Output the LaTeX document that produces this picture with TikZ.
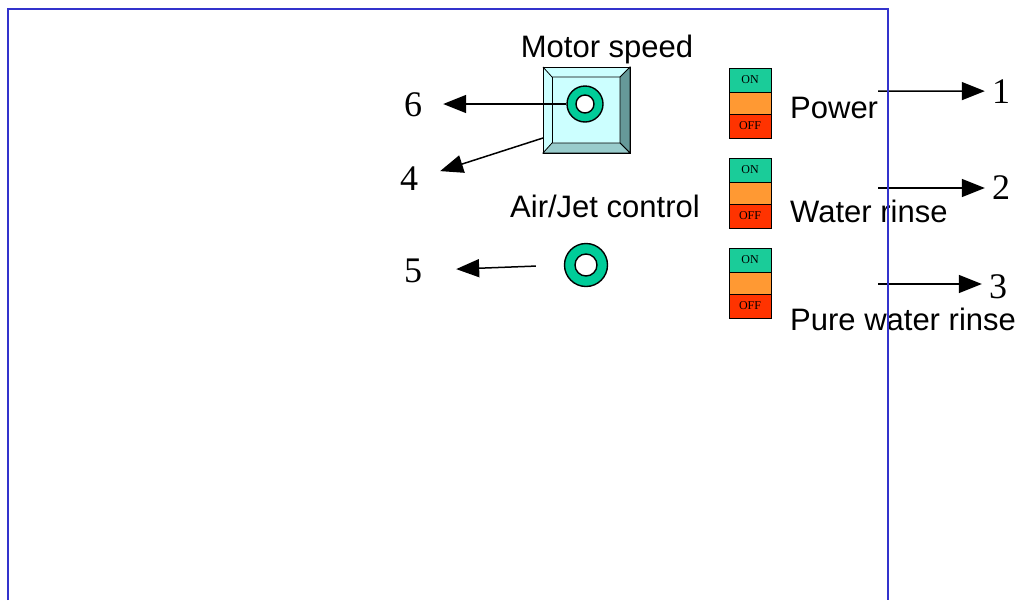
\documentclass[tikz,border=0pt]{standalone}
\usepackage{fontspec}
\setmainfont{Liberation Serif}
\newfontfamily\labelfont{Liberation Sans}
\usetikzlibrary{arrows.meta,calc}
\definecolor{framebl}{RGB}{51,51,204}
\definecolor{knobgr}{RGB}{0,204,153}
\definecolor{swon}{RGB}{26,204,153}
\definecolor{swmid}{RGB}{255,153,51}
\definecolor{swoff}{RGB}{255,51,0}
\definecolor{facecy}{RGB}{204,255,255}
\definecolor{bevdark}{RGB}{102,153,153}
\definecolor{bevmid}{RGB}{153,204,204}
\begin{document}
\begin{tikzpicture}[x=1pt,y=-1pt,
	txt/.style={ font=\labelfont\fontsize{31}{36}\selectfont, inner sep=0pt, anchor=base },
	num/.style={ font=\fontsize{36}{40}\selectfont, inner sep=0pt, anchor=base },
	knob/.style={ circle, draw, line width=1.4pt, fill=knobgr, inner sep=0pt },
	hole/.style={ circle, draw, line width=1.4pt, fill=white, inner sep=0pt },
	sect/.style={ rectangle, draw, line width=1pt, inner sep=0pt, minimum width=42, font=\fontsize{12}{12}\selectfont },
	pointer/.style={ line width=1.5pt, -{Triangle[length=23pt,width=18pt]} }
]
\useasboundingbox (0,0) rectangle (1031,600);

% motor speed knob in its bevelled box
\node at (586.5,110) (motor) [rectangle, draw, line width=1pt, fill=facecy, minimum width=87, minimum height=86, inner sep=0pt, outer sep=0pt] {};
\coordinate (iNW) at ($(motor.north west)+(9,10)$);
\coordinate (iNE) at ($(motor.north east)+(-10,10)$);
\coordinate (iSW) at ($(motor.south west)+(9,-10)$);
\coordinate (iSE) at ($(motor.south east)+(-10,-10)$);
\filldraw[fill=bevdark, line width=0.8pt] (motor.north east) -- (motor.south east) -- (iSE) -- (iNE) -- cycle;
\filldraw[fill=bevmid, line width=0.8pt] (motor.south west) -- (motor.south east) -- (iSE) -- (iSW) -- cycle;
\draw[line width=0.8pt] (motor.north west) -- (iNW) -- (iNE);
\draw[line width=0.8pt] (iNW) -- (iSW);
\draw[line width=1pt] (motor.north west) rectangle (motor.south east);
\node at (585,104) (speed) [knob, minimum size=36] {};
\node at (speed) (speedhole) [hole, minimum size=18] {};
\node at (607,57) (motorlbl) [txt] {Motor speed};

% air/jet knob
\node at (586,265) (airjet) [knob, minimum size=43] {};
\node at (airjet) (airjethole) [hole, minimum size=22] {};
\node at (605,217) (airlbl) [txt] {Air/Jet control};

% switches
\foreach \i/\y in {1/68,2/158,3/248} {
	\node at (750,\y+12) (on\i) [sect, fill=swon, minimum height=24] {ON};
	\node at (750,\y+35) (mid\i) [sect, fill=swmid, minimum height=22] {};
	\node at (750,\y+58) (off\i) [sect, fill=swoff, minimum height=24] {OFF};
}
\node at (790,118) (power) [txt, anchor=base west] {Power};
\node at (790,222) (water) [txt, anchor=base west] {Water rinse};
\node at (790,330) (pure) [txt, anchor=base west] {Pure water rinse};

% numbers
\node at (413,116) (n6) [num] {6};
\node at (409,190) (n4) [num] {4};
\node at (413,282) (n5) [num] {5};
\node at (1001,103) (n1) [num] {1};
\node at (1001,199) (n2) [num] {2};
\node at (998,298) (n3) [num] {3};

% pointers
\draw[pointer, shorten >=21] (speed.west) -- (speed.west -| n6.east);
\coordinate (s4) at ($(motor.south west)+(0,-15)$);
\draw[pointer, shorten >=23] (s4) -- (n4.east);
\draw[pointer, shorten <=28, shorten >=34] (airjet.west) -- (n5.east);
\coordinate (s1) at (878,91);
\coordinate (s2) at (878,188);
\coordinate (s3) at (878,284);
\draw[pointer, shorten >=7] (s1) -- (n1.west);
\foreach \k in {2,3} \draw[pointer, shorten >=7] (s\k) -- (s\k -| n\k.west);

% panel frame
\draw[framebl, line width=1.5pt] (8,600) -- (8,9) -- (888,9) -- (888,600);

\end{tikzpicture}
\end{document}
